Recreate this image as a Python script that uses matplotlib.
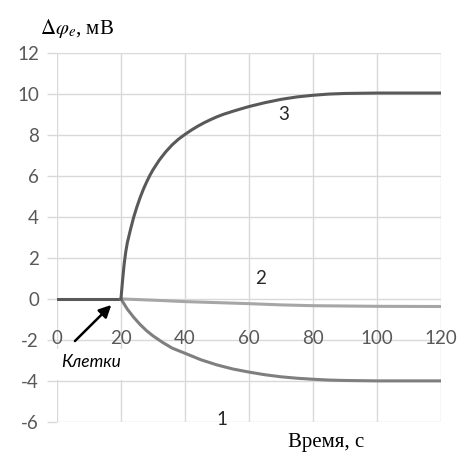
import matplotlib
matplotlib.use("Agg")
import matplotlib.pyplot as plt
from matplotlib.patches import Rectangle

plt.rcParams["axes.unicode_minus"] = False
plt.rcParams["mathtext.fontset"] = "stix"

# ===== DATA =====
t_before = [0, 20]
v_before = [0.0, 0.0]

t3 = [20, 20.5, 21, 21.5, 22, 23, 24, 25, 26, 27, 28, 29, 30, 32, 34, 36, 38, 40,
      42, 44, 46, 48, 50, 52, 55, 58, 60, 65, 70, 75, 80, 85, 90, 100, 120]
v3 = [0.0, 0.9, 1.7, 2.3, 2.75, 3.4, 4.0, 4.5, 4.95, 5.35, 5.7, 6.02, 6.3, 6.78, 7.18, 7.52, 7.8, 8.03,
      8.24, 8.43, 8.6, 8.75, 8.89, 9.01, 9.16, 9.3, 9.39, 9.58, 9.74, 9.86, 9.94, 10.0, 10.03, 10.05, 10.05]

t1 = [20, 21, 22, 24, 26, 28, 30, 33, 36, 40, 45, 50, 55, 60, 65, 70, 75, 80, 85, 90, 100, 120]
v1 = [0.0, -0.25, -0.5, -0.9, -1.25, -1.55, -1.8, -2.12, -2.4, -2.65, -2.97, -3.22, -3.42, -3.57,
      -3.7, -3.8, -3.87, -3.92, -3.96, -3.98, -4.0, -4.0]

t2 = [20, 30, 40, 50, 60, 70, 80, 100, 120]
v2 = [0.0, -0.06, -0.13, -0.18, -0.23, -0.29, -0.33, -0.36, -0.37]

x_ticks = [0, 20, 40, 60, 80, 100, 120]
y_ticks = [-6, -4, -2, 0, 2, 4, 6, 8, 10, 12]

curve_labels = ["1", "2", "3"]
label_pos = [(51.5, -5.9), (63.5, 1.0), (71, 9.0)]

# ===== FIGURE =====
fig = plt.figure(figsize=(4.67, 4.74), dpi=100)
ax = fig.add_axes([0.122, 0.11, 0.822, 0.778])

tick_col = "#595959"
grid_col = "#d9d9d9"

ax.set_xlim(0, 120)
ax.set_ylim(-6, 12)
ax.set_xticks(x_ticks)
ax.set_yticks(y_ticks)
ax.grid(True, color=grid_col, linewidth=1.0)
ax.set_axisbelow(True)
for s in ax.spines.values():
    s.set_visible(False)
ax.tick_params(axis="y", length=7, color=grid_col, width=1.0, labelcolor=tick_col, pad=6)
ax.tick_params(axis="x", length=0, labelbottom=False)
for lab in ax.get_yticklabels():
    lab.set_fontfamily("Lato")
    lab.set_fontsize(13.5)

# x tick labels sit along the zero axis, like Excel
for x in x_ticks:
    ax.text(x, -1.95, str(x), ha="center", va="center", fontsize=13.5,
            family="Lato", color=tick_col, zorder=2)

# ===== CURVES =====
ax.plot(t_before, v_before, color="#595959", lw=2.2, zorder=3)
ax.plot(t2, v2, color="#a6a6a6", lw=2.2, zorder=3)
ax.plot(t1, v1, color="#7f7f7f", lw=2.2, zorder=3)
ax.plot(t3, v3, color="#595959", lw=2.2, zorder=4)

for lab, (x, y) in zip(curve_labels, label_pos):
    ax.text(x, y, lab, ha="center", va="center", fontsize=13.5, family="Lato", color="#262626")

# ===== ANNOTATION =====
ax.add_patch(Rectangle((0, -3.95), 28, 1.5, facecolor="white", edgecolor="none", zorder=2.5))
ax.annotate("", xy=(17.6, -0.2), xytext=(5, -2.15),
            arrowprops=dict(arrowstyle="-|>", color="black", lw=1.8, mutation_scale=18), zorder=5)
ax.text(10.6, -3.1, "Клетки", ha="center", va="center", fontsize=12.5,
        family="Lato", style="italic", color="black", zorder=5)

# ===== AXIS TITLES =====
fig.text(40 / 467, 1 - 28 / 474, r"$\Delta\varphi_e$, мВ", ha="left", va="center",
         fontsize=15, family="Liberation Serif", color="black")
fig.text(326 / 467, 1 - 443 / 474, "Время, с", ha="center", va="center",
         fontsize=15, family="Liberation Serif", color="black")

fig.savefig("out.png", dpi=100)
